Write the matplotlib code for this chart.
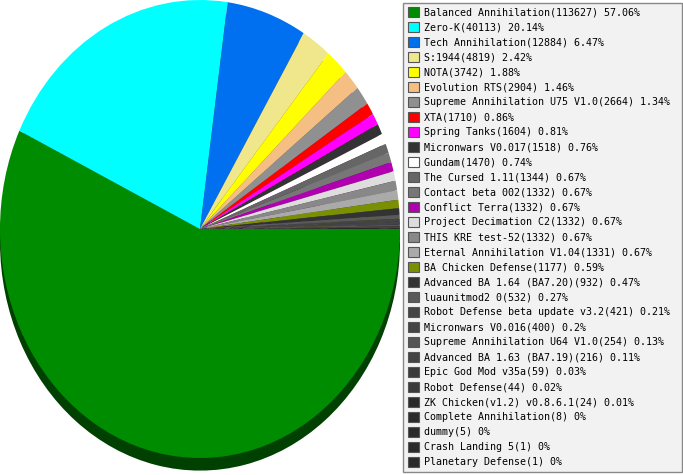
import matplotlib
matplotlib.use('Agg')
import matplotlib.pyplot as plt
import matplotlib.colors as mcolors
from matplotlib.patches import Patch, Rectangle

# mods, game counts and shares as listed in the legend
names = [
    'Balanced Annihilation', 'Zero-K', 'Tech Annihilation', 'S:1944', 'NOTA',
    'Evolution RTS', 'Supreme Annihilation U75 V1.0', 'XTA', 'Spring Tanks',
    'Micronwars V0.017', 'Gundam', 'The Cursed 1.11', 'Contact beta 002',
    'Conflict Terra', 'Project Decimation C2', 'THIS KRE test-52',
    'Eternal Annihilation V1.04', 'BA Chicken Defense', 'Advanced BA 1.64 (BA7.20)',
    'luaunitmod2 0', 'Robot Defense beta update v3.2', 'Micronwars V0.016',
    'Supreme Annihilation U64 V1.0', 'Advanced BA 1.63 (BA7.19)', 'Epic God Mod v35a',
    'Robot Defense', 'ZK Chicken(v1.2) v0.8.6.1', 'Complete Annihilation', 'dummy',
    'Crash Landing 5', 'Planetary Defense',
]
counts = [113627, 40113, 12884, 4819, 3742, 2904, 2664, 1710, 1604, 1518, 1470,
          1344, 1332, 1332, 1332, 1332, 1331, 1177, 932, 532, 421, 400, 254, 216,
          59, 44, 24, 8, 5, 1, 1]
shares = ['57.06', '20.14', '6.47', '2.42', '1.88', '1.46', '1.34', '0.86', '0.81',
          '0.76', '0.74', '0.67', '0.67', '0.67', '0.67', '0.67', '0.67', '0.59',
          '0.47', '0.27', '0.21', '0.2', '0.13', '0.11', '0.03', '0.02', '0.01',
          '0', '0', '0', '0']

COLORS = [
    '#008c00', '#00ffff', '#0070f0', '#f0e68c', '#ffff00', '#f5be82', '#909090',
    '#ff0000', '#ff00ff', '#333333', '#ffffff', '#666666', '#777777', '#b000b0',
    '#dddddd', '#888888', '#aaaaaa', '#7a9000', '#333333', '#5a5a5a', '#444444',
    '#444444', '#555555', '#444444', '#3a3a3a', '#3a3a3a', '#2a2a2a', '#2a2a2a',
    '#2a2a2a', '#2a2a2a', '#2a2a2a',
]

W, H = 683, 475
fig = plt.figure(figsize=(W / 100, H / 100), dpi=100)

# pie occupies the left 400 px; ellipse 400 wide, ~458 tall
ax = fig.add_axes([0, 0, 400 / W, 1])
shadow = [tuple(c * 0.46 for c in mcolors.to_rgb(col)) for col in COLORS]
ax.pie(counts, colors=shadow, startangle=0, counterclock=False,
       center=(0, -0.055), wedgeprops=dict(linewidth=0))
ax.pie(counts, colors=COLORS, startangle=0, counterclock=False,
       wedgeprops=dict(linewidth=0))
ax.set_aspect('auto')
ax.set_xlim(-1.0, 1.0)
ax.set_ylim(-(H - 229) / 229, 1.0)
ax.axis('off')

# legend box
fig.patches.append(Rectangle((403 / W, 3 / H), 279 / W, 469 / H,
                             transform=fig.transFigure, facecolor='#f2f2f2',
                             edgecolor='#888888', linewidth=1, zorder=0))

labels = [f'{n}({c}) {s}%' for n, c, s in zip(names, counts, shares)]
handles = [Patch(facecolor=col, edgecolor='#555555', linewidth=0.8) for col in COLORS]
fig.legend(handles=handles, labels=labels, loc='upper left',
           bbox_to_anchor=(404 / W, 1 - 3 / H), frameon=False,
           prop=dict(family='DejaVu Sans Mono', size=7.2),
           handlelength=1.1, handleheight=1.1, handletextpad=0.45,
           labelspacing=0.48, borderpad=0.4, borderaxespad=0)

fig.savefig('out.png', dpi=100)
